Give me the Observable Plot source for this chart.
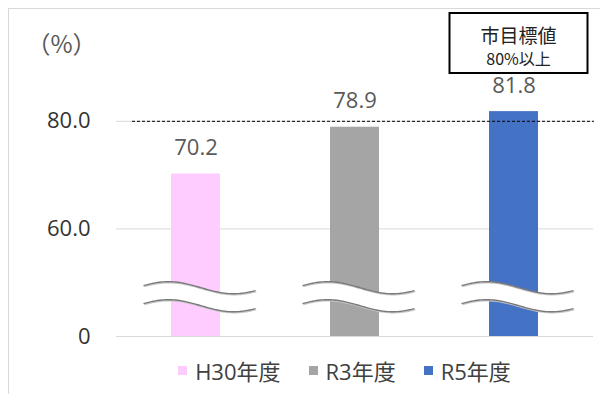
<!DOCTYPE html>
<html>
<head>
<meta charset="utf-8">
<script src="https://cdn.jsdelivr.net/npm/d3@7"></script>
<script src="https://cdn.jsdelivr.net/npm/@observablehq/plot@0.6"></script>
<style>
  html, body { margin: 0; padding: 0; background: #fff; overflow: hidden; }
  #wrap { position: relative; width: 600px; height: 394px; font-family: "Open Sans", "Noto Sans CJK JP", sans-serif; }
  #frame { position: absolute; left: 8px; top: 8px; width: 700px; height: 500px; border: 1px solid #d9d9d9; box-sizing: border-box; pointer-events: none; }
  #chart svg { display: block; }
  #legend { display: flex; justify-content: center; align-items: center; height: 36px; padding-left: 89px; box-sizing: border-box; width: 600px; font-size: 22px; color: #404040; }
  .item { display: flex; align-items: center; margin: 0 14px; }
  .sw { width: 9px; height: 9px; margin-right: 8px; }
</style>
</head>
<body>
<div id="wrap">
  <div id="frame"></div>
  <div id="chart"></div>
  <div id="legend"></div>
</div>
<script>
const categories = ["H30年度", "R3年度", "R5年度"];
const values = [70.2, 78.9, 81.8];
const colors = ["#FFCCFF", "#A5A5A5", "#4472C4"];
const yTicks = [40, 60, 80];
const yTickLabels = ["0", "60.0", "80.0"];
const target = 80;
const targetLines = ["市目標値", "80%以上"];
const unitLabel = "（%）";

const data = categories.map((c, i) => ({category: c, value: values[i]}));

function waves(index, scales, vals, dims) {
  const g = d3.create("svg:g");
  const x = scales.x;
  const bw = x.bandwidth ? x.bandwidth() : 160;
  const yc = scales.y(47.3);
  for (const c of categories) {
    const cx = x(c) + bw / 2;
    const top = [], bot = [];
    for (let t = 0; t <= 112; t += 2) {
      const px = cx - 52 + t;
      const w = -6 * Math.cos(2 * Math.PI * (t - 25) / 130);
      top.push([px, yc - 9 + w]);
      bot.push([px, yc + 9 + w]);
    }
    g.append("path")
      .attr("d", "M" + top.join("L") + "L" + bot.slice().reverse().join("L") + "Z")
      .attr("fill", "white");
    for (const pts of [top, bot]) {
      g.append("path").attr("d", d3.line()(pts.map(p => [p[0] + 0.8, p[1] + 1])))
        .attr("fill", "none").attr("stroke", "#c8c8c8").attr("stroke-width", 1.5);
      g.append("path").attr("d", d3.line()(pts))
        .attr("fill", "none").attr("stroke", "#7a7a7a").attr("stroke-width", 1.4);
    }
  }
  return g.node();
}

function targetBox(index, scales, vals, dims) {
  const g = d3.create("svg:g");
  const x = scales.x;
  const bw = x.bandwidth ? x.bandwidth() : 160;
  const cx = x(categories[2]) + bw / 2 + 5;
  const top = dims.marginTop - 54;
  g.append("rect").attr("x", cx - 69).attr("y", top).attr("width", 138).attr("height", 60)
    .attr("fill", "white").attr("stroke", "black").attr("stroke-width", 2);
  g.append("text").attr("x", cx).attr("y", top + 21).attr("text-anchor", "middle")
    .attr("dominant-baseline", "central").attr("font-size", 19).attr("fill", "#222")
    .attr("font-family", "'Noto Sans CJK JP', sans-serif").text(targetLines[0]);
  g.append("text").attr("x", cx).attr("y", top + 45).attr("text-anchor", "middle")
    .attr("dominant-baseline", "central").attr("font-size", 16).attr("fill", "#222")
    .attr("font-family", "'Noto Sans CJK JP', sans-serif").text(targetLines[1]);
  return g.node();
}

const plot = Plot.plot({
  width: 600,
  height: 352,
  marginLeft: 115,
  marginRight: 6,
  marginTop: 67,
  marginBottom: 16,
  x: {domain: categories, padding: 0, axis: null},
  y: {domain: [40, 90], axis: null},
  color: {domain: categories, range: colors},
  style: {fontFamily: "'Open Sans', 'Noto Sans CJK JP', sans-serif", background: "transparent", overflow: "visible"},
  marks: [
    Plot.ruleY(yTicks, {y: d => d, stroke: "#d9d9d9", strokeWidth: 1, insetLeft: 1, insetRight: 1}),
    Plot.text(yTicks, {y: d => d, text: (d, i) => yTickLabels[i], frameAnchor: "left", textAnchor: "end", dx: -25, fontSize: 22, fill: "#333"}),
    Plot.barY(data, {x: "category", y1: d => 40, y2: "value", fill: "category", insetLeft: 55, insetRight: 55}),
    Plot.ruleY([target], {y: d => d, stroke: "#000", strokeWidth: 1, strokeDasharray: "3,2", insetLeft: 17, insetRight: 0}),
    waves,
    Plot.text(data, {x: "category", y: "value", text: d => d.value.toFixed(1), dy: -26, fontSize: 22, fill: "#595959"}),
    Plot.text([unitLabel], {text: d => d, frameAnchor: "top-left", textAnchor: "middle", lineAnchor: "middle", dx: -54, dy: -22, fontSize: 24, fill: "#595959", fontFamily: "'Noto Sans CJK JP', sans-serif"}),
    targetBox
  ]
});
document.getElementById("chart").appendChild(plot);

const legend = document.getElementById("legend");
categories.forEach((c, i) => {
  const item = document.createElement("div");
  item.className = "item";
  const sw = document.createElement("span");
  sw.className = "sw";
  sw.style.background = colors[i];
  const label = document.createElement("span");
  label.textContent = c;
  item.appendChild(sw);
  item.appendChild(label);
  legend.appendChild(item);
});
</script>
</body>
</html>
